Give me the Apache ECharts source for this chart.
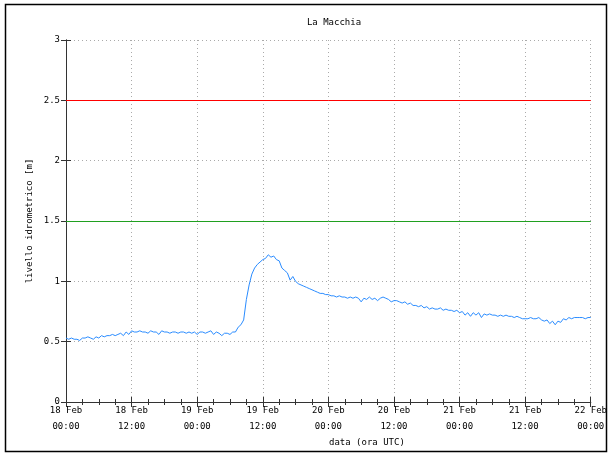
<!DOCTYPE html>
<html>
<head>
<meta charset="utf-8">
<script src="https://cdn.jsdelivr.net/npm/echarts@6/dist/echarts.min.js"></script>
<style>
html,body{margin:0;padding:0;background:#fff;}
#c{width:610px;height:453px;}
</style>
</head>
<body>
<div id="c"></div>
<script>
// hours since 18 Feb 00:00 UTC, one reading every 30 minutes
const stepHours = 0.5;
const levels = [
  0.53,0.52,0.53,0.52,0.52,0.51,0.53,0.53,0.54,0.53,0.52,0.54,0.53,0.55,0.54,0.55,0.55,0.56,0.55,0.56,0.57,0.55,0.58,0.56,
  0.59,0.58,0.58,0.59,0.58,0.58,0.57,0.59,0.58,0.58,0.56,0.59,0.58,0.58,0.57,0.58,0.58,0.57,0.58,0.58,0.57,0.58,0.57,0.58,
  0.56,0.58,0.58,0.57,0.58,0.59,0.56,0.58,0.57,0.55,0.57,0.57,0.56,0.58,0.58,0.62,0.64,0.68,0.85,0.97,1.06,1.11,1.14,1.16,
  1.18,1.19,1.22,1.20,1.21,1.18,1.17,1.11,1.09,1.07,1.01,1.04,1.00,0.98,0.97,0.96,0.95,0.94,0.93,0.92,0.91,0.90,0.90,0.89,
  0.89,0.88,0.88,0.87,0.88,0.87,0.87,0.86,0.87,0.86,0.87,0.86,0.83,0.86,0.85,0.87,0.85,0.86,0.84,0.86,0.87,0.86,0.85,0.83,
  0.84,0.84,0.83,0.82,0.83,0.81,0.82,0.80,0.80,0.79,0.80,0.78,0.79,0.77,0.78,0.77,0.77,0.78,0.76,0.77,0.76,0.76,0.75,0.76,
  0.74,0.75,0.72,0.74,0.71,0.74,0.72,0.74,0.70,0.73,0.72,0.73,0.72,0.72,0.71,0.72,0.71,0.72,0.71,0.71,0.70,0.71,0.70,0.69,
  0.69,0.69,0.70,0.69,0.69,0.70,0.68,0.67,0.68,0.65,0.67,0.64,0.67,0.66,0.69,0.68,0.70,0.69,0.70,0.70,0.70,0.70,0.69,0.70,
  0.70
];
const xTickLabels = ['18 Feb\n00:00','18 Feb\n12:00','19 Feb\n00:00','19 Feb\n12:00','20 Feb\n00:00','20 Feb\n12:00','21 Feb\n00:00','21 Feb\n12:00','22 Feb\n00:00'];
const thresholds = [
  {value: 2.5, color: '#ff0000'},
  {value: 1.5, color: '#20a020'}
];
const titleText = 'La Macchia';
const yName = 'livello idrometrico [m]';
const xName = 'data (ora UTC)';

const FONT = 'DejaVu Sans Mono';
const data = levels.map((v, i) => [i * stepHours, v]);

const chart = echarts.init(document.getElementById('c'), null, {renderer: 'canvas'});
const axisLine = {show: true, lineStyle: {color: '#333', width: 1}};
const majorTick = {show: true, inside: false, length: -5, lineStyle: {color: '#333'}};
const minorTick = {show: true, splitNumber: 4, length: -3, lineStyle: {color: '#333'}};
chart.setOption({
  animation: false,
  backgroundColor: '#fff',
  title: {
    text: titleText, left: 329, top: 13, textAlign: 'center',
    textStyle: {fontFamily: FONT, fontSize: 9, fontWeight: 'normal', color: '#000'}
  },
  graphic: [
    {type: 'rect', shape: {x: 5.5, y: 4.5, width: 601, height: 447}, style: {fill: null, stroke: '#000', lineWidth: 1.5}, silent: true},
    {type: 'text', left: 329, top: 438, style: {text: xName, fontFamily: FONT, fontSize: 9, fill: '#000', textAlign: 'center'}},
    {type: 'text', x: 30, y: 221, rotation: Math.PI / 2, style: {text: yName, fontFamily: FONT, fontSize: 9, fill: '#000', align: 'center', verticalAlign: 'middle'}}
  ],
  grid: {left: 66, right: 18, top: 40, bottom: 51},
  xAxis: [
    {
      type: 'value', min: 0, max: 96, interval: 12, position: 'bottom',
      axisLine: axisLine,
      axisTick: majorTick,
      minorTick: minorTick,
      splitLine: {show: true, lineStyle: {color: '#aaa', type: [1, 3], width: 1}},
      axisLabel: {
        fontFamily: FONT, fontSize: 9, color: '#000', lineHeight: 16, margin: 1,
        formatter: v => xTickLabels[Math.round(v / 12)]
      }
    },
    {
      type: 'value', min: 0, max: 96, interval: 12, position: 'top',
      axisLine: axisLine,
      axisTick: majorTick,
      minorTick: minorTick,
      splitLine: {show: false},
      axisLabel: {show: false}
    }
  ],
  yAxis: [
    {
      type: 'value', min: 0, max: 3, interval: 0.5, position: 'left',
      axisLine: axisLine,
      axisTick: majorTick,
      splitLine: {show: true, lineStyle: {color: '#aaa', type: [1, 3], width: 1}},
      axisLabel: {fontFamily: FONT, fontSize: 9, color: '#000', margin: 6}
    },
    {
      type: 'value', min: 0, max: 3, interval: 0.5, position: 'right',
      axisLine: axisLine,
      axisTick: majorTick,
      splitLine: {show: false},
      axisLabel: {show: false}
    }
  ],
  series: [{
    type: 'line',
    data: data,
    showSymbol: false,
    symbol: 'none',
    lineStyle: {color: '#2a8cff', width: 1},
    markLine: {
      silent: true, symbol: 'none', label: {show: false},
      data: thresholds.map(t => ({yAxis: t.value, lineStyle: {color: t.color, width: 1, type: 'solid'}}))
    }
  }]
});
</script>
</body>
</html>
